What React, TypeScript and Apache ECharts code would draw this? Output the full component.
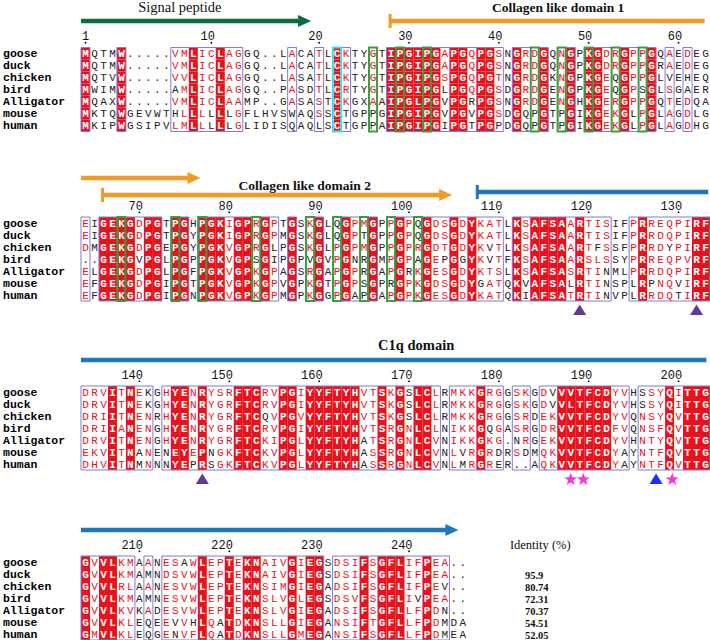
import React, { useEffect, useRef } from "react";
import * as echarts from "echarts";

const species = ["goose", "duck", "chicken", "bird", "Alligator", "mouse", "human"];

const block1 = [
  "MQTMW.....VMLICLAGGQ..LACATLCKTYGTIPGIPGAPGQPGSNGRDGQNGPKGDRGPPGQAEDEG",
  "MQTMW.....VMLICLAGGQ..LACATLCKTYGTIPGIPGAPGQPGSNGRDGQNGPKGDRGPPGRAEDEG",
  "MQTVW.....VVLICLAGGQ..LASATLCKTYGTIPGIPGSPGQPGTNGRDGKNGPKGEQGPPGLVEHEQ",
  "MWIMW.....AMLICLAGGQ..PASDTLCRTYGTIPGIPGLPGQPGSDGRDGENGPKGEQGPSGLSGAER",
  "MQAXW.....VMLICLAAMP..GASASTCKGXAAIPGLPGVPGRPGSNGRDGENGHKGERGPPGQTEDQA",
  "MKTQWGEVWTHLLLLLLGFLHVSWAQSSCTGPPGIPGIPGVPGVPGSDGQPGTPGIKGEKGLPGLAGDLG",
  "MKIPWGSIPVLMLLLLLGLIDISQAQLSCTGPPAIPGIPGIPGTPGPDGQPGTPGIKGEKGLPGLAGDHG",
];
const block2 = [
  "EIGEKGDPGTPGHPGKIGPRGPTGSKGLQGPMGPPGPQGDSGDYKATLKSAFSAARTISIFPRREQPIRF",
  "EIGEKGDPGTPGYPGKIGPRGPMGSKGLQGPTGPPGPQGDSGDYKATLKSAFSAARTISIFPRRDQPIRF",
  "DMGEKGDPGEPGYPGKVGPRGLPGSKGLPGPMGPPGPRGDTGDYKVTLKSAFSAARTFSSFPRRDYPIRF",
  "..GEKGVPGLPGPPGKVGPSGIPGPVGVPGNRGMPGPAGEPGGYKVTFKSAFSAARSLSSYPRREQPVRF",
  "ELGEKGDPGLPGFPGKVGPKGPAGSRGAPGPRGAPGRKGESGDYKTSLKSAFSASRTINMLPRRDQPIRF",
  "EFGEKGDPGIPGTPGKVGPKGPVGPKGTPGPSGPRGPKGDSGDYGATQKVAFSALRTINSPLRPNQVIRF",
  "EFGEKGDPGIPGNPGKVGPKGPMGPKGGPGAPGAPGPKGESGDYKATQKIAFSATRTINVPLRRDQTIRF",
];
const block3 = [
  "DRVITNEKGHYENRYSRFTCRVPGIYYFTYHVTSKGSLCLRMKKGRGGSKGDVVVTFCDYVHSSYQITTG",
  "DRVITNEKGHYENRYGRFTCRVPGIYYFTYHVTSKGSLCLRMKKGRGGSKGDVVLTFCDYVHSSYQITTG",
  "DRIITNENRHYENRYGRFTCQVPGVYYFTYHVTSKGSLCLRMKKGRGGSRDEKVVTFCDYVQNSYQVTTG",
  "DRIIANENGHYENRYGRFTCRVPGIYYFTYHVTSRGNLCLNIKKGQGASRGDRVVTFCDFVQNSFQVTTG",
  "DRVITNENGHYENRYGRFTCKIPGLYYFTYHATSRGNLCVNIKKGKG.NRGEKVVTFCDYVHNTYQVTTG",
  "EKVITNANENEYEPNGKFTCKVPGLYYFTYHASSRGNLCVNLVRGRDRSDMQKVVTFCDYAYNTFQVTTG",
  "DHVITNMNNNYEPRSGKFTCKVPGLYYFTYHASSRGNLCVNLMRGRER..AQKVVTFCDYAYNTFQVTTG",
];
const block4 = [
  "GVVLKMAANESAWLEPTEKNAIVGIEGSDSIFSGFLIFPEA..",
  "GVVLKMAMNDSVWLEPTEKNAIVGIEGSDSIFSGFLIFPEA..",
  "GVVLRLAANESVWLEPTEKNSIMGIEGADSIFSGFLIFPEV..",
  "GVVLKMAMNESVWLEPTEKNSLVGLEGSDSVFSGFLIVPEA..",
  "GVVLKVKADESVWLEPTEKNSLVGIEGADSIFSGFLLFPDN..",
  "GVVLKLEQEEVVHLQATDKNSLLGIEGANSIFTGFLLFPDMDA",
  "GMVLKLEQGENVFLQATDKNSLLGMEGANSIFSGFLLFPDMEA",
];

// column classes: R = strictly conserved (red box), r = similar (red letters), - = not conserved
const classes1 = "R---R-----rrRrrRrr-----r--r-Rr--r-RRRRRRrRRrRRr-RrrR-rR-RRrrRrrR-r-r--";
const classes2 = "r-RRRRrRR-RR-RRRrRRrRr-R-rR-rRrrR-rRrrRrrRrRrrr-RrRRRRrRrrr--rRrrrrrRR";
const classes3 = "rrrRrRrr-rRRrRrrrRRRrrRRrRRRRRRrrRrRrRRr-rrrRrr-rr-rrRRRRRRrr-rrrRrRRR";
const classes4 = "RrRRrr-r-rrrrRrrRrRRrrrRrRR-rrrRrRRRrrRrr--";

const greenCols1 = [33, 36, 39, 51, 54, 57, 60, 63];
const greenCols2 = [5, 11, 14, 20, 26, 29, 32, 35, 38];
const cyanCols1 = [29];

const firstResidue = [1, 64, 134, 204];
const identityValues = ["95.9", "80.74", "72.31", "70.37", "54.51", "52.05"];

const triangleCols2 = [56, 69];
const triangleCols3 = [14];
const starCols3 = [55, 56.4, 66.3];
const blueTriangleCols3 = [64.5];

const domainNames = ["Signal peptide", "Collagen like domain 1", "Collagen like domain 2", "C1q domain"];
// [domain, block, from column, to column]
const domainSegments = [
  [0, 0, 0.5, 26.1],
  [1, 0, 34.9, 69.9],
  [1, 1, 0.5, 13.8],
  [2, 1, 2.9, 41.8],
  [3, 1, 44.6, 70.3],
  [3, 2, 0.5, 70.1],
  [3, 3, 0.5, 42.5],
];
// [domain, block, column of label centre]
const domainLabels = [
  [0, 0, 11.5],
  [1, 0, 53.6],
  [2, 1, 25.4],
  [3, 2, 37.8],
];

const blocks = [block1, block2, block3, block4];
const classes = [classes1, classes2, classes3, classes4];
const greens = [greenCols1, greenCols2, [], []];
const cyans = [cyanCols1, [], [], []];

// layout
const ROW0_Y = [53.5, 223, 392, 562];
const ROW_H = 12;
const COL_W = 9;
const RED = "#e8121c";
const BLACK = "#222";
const FRAME = "#7c7cd9";
const GREEN = "#3d9c3d";
const CYAN = "#3fe3ea";
const DOMAIN_COLORS = ["#0b6b3b", "#f29a24", "#f29a24", "#1d79bf"];
const MONO = "'Liberation Mono', 'Courier New', monospace";
const SERIF = "'Liberation Serif', 'Times New Roman', serif";
const RES_FONT = 11;

const groups = ["ILVM", "FYW", "KRH", "DENQ", "STAG", "P", "C"];
const grp = (ch: string) => groups.findIndex((g) => g.includes(ch));

function cellSeries(bi: number) {
  const seqs = blocks[bi];
  const cls = classes[bi];
  const data: number[][] = [];
  const meta: any[] = [];
  const n = seqs[0].length;
  for (let c = 0; c < n; c++) {
    const col = seqs.map((s) => s[c]);
    const counts: Record<string, number> = {};
    col.forEach((ch) => {
      if (ch !== ".") counts[ch] = (counts[ch] || 0) + 1;
    });
    const mode = Object.keys(counts).sort((a, b) => counts[b] - counts[a])[0];
    col.forEach((ch, r) => {
      const k = cls[c];
      let fill = false;
      let color = BLACK;
      let bold = false;
      if (ch !== ".") {
        if (k === "R") {
          fill = true;
          color = "#fff";
          bold = true;
        } else if (k === "r" && grp(ch) >= 0 && grp(ch) === grp(mode)) {
          color = RED;
        }
      }
      data.push([c + 1, r]);
      meta.push({ ch, fill, color, bold });
    });
  }
  return {
    type: "custom",
    xAxisIndex: bi,
    yAxisIndex: bi,
    z: 2,
    silent: true,
    data,
    renderItem: (params: any, api: any) => {
      const m = meta[params.dataIndex];
      const p = api.coord([api.value(0), api.value(1)]);
      const children: any[] = [];
      if (m.fill) {
        children.push({
          type: "rect",
          shape: { x: p[0] - COL_W / 2, y: p[1] - ROW_H / 2, width: COL_W, height: ROW_H },
          style: { fill: RED },
        });
      }
      children.push({
        type: "text",
        x: p[0],
        y: p[1] + 0.5,
        style: {
          text: m.ch,
          fill: m.color,
          fontFamily: MONO,
          fontSize: RES_FONT,
          fontWeight: m.bold ? "bold" : "normal",
          align: "center",
          verticalAlign: "middle",
        },
      });
      return { type: "group", children };
    },
  };
}

function frameSeries(bi: number) {
  const cls = classes[bi];
  const runs: number[][] = [];
  let start = -1;
  for (let c = 0; c <= cls.length; c++) {
    const on = c < cls.length && cls[c] !== "-";
    if (on && start < 0) start = c + 1;
    if (!on && start >= 0) {
      runs.push([start, c]);
      start = -1;
    }
  }
  return {
    type: "custom",
    xAxisIndex: bi,
    yAxisIndex: bi,
    z: 3,
    silent: true,
    data: runs,
    renderItem: (params: any, api: any) => {
      const a = api.coord([api.value(0), 0]);
      const b = api.coord([api.value(1), 6]);
      return {
        type: "rect",
        shape: {
          x: a[0] - COL_W / 2,
          y: a[1] - ROW_H / 2,
          width: b[0] - a[0] + COL_W,
          height: b[1] - a[1] + ROW_H,
        },
        style: { fill: "none", stroke: FRAME, lineWidth: 1 },
      };
    },
  };
}

function boxSeries(bi: number, cols: number[], color: string, z: number) {
  return {
    type: "custom",
    xAxisIndex: bi,
    yAxisIndex: bi,
    z,
    silent: true,
    data: cols.map((c) => [c]),
    renderItem: (params: any, api: any) => {
      const a = api.coord([api.value(0), 0]);
      const b = api.coord([api.value(0), 6]);
      return {
        type: "rect",
        shape: { x: a[0] - COL_W / 2 + 0.5, y: a[1] - ROW_H / 2, width: COL_W - 1, height: b[1] - a[1] + ROW_H },
        style: { fill: "none", stroke: color, lineWidth: 2 },
      };
    },
  };
}

function numberSeries(bi: number) {
  const goose = blocks[bi][0];
  let res = firstResidue[bi] - 1;
  const data: number[][] = [];
  const labels: string[] = [];
  for (let c = 0; c < goose.length; c++) {
    if (goose[c] === ".") continue;
    res++;
    if (res === 1 || res % 10 === 0) {
      data.push([c + 1]);
      labels.push(String(res));
    }
  }
  return {
    type: "custom",
    xAxisIndex: bi,
    yAxisIndex: bi,
    z: 2,
    silent: true,
    data,
    renderItem: (params: any, api: any) => {
      const p = api.coord([api.value(0), 0]);
      return {
        type: "group",
        children: [
          {
            type: "text",
            x: p[0] + 3.6,
            y: p[1] - 16.5,
            style: {
              text: labels[params.dataIndex],
              fill: "#111",
              fontFamily: MONO,
              fontSize: 12,
              align: "right",
              verticalAlign: "middle",
            },
          },
          { type: "circle", shape: { cx: p[0], cy: p[1] - 10.8, r: 0.9 }, style: { fill: "#111" } },
        ],
      };
    },
  };
}

function laneOffset(domain: number, block: number) {
  if (block === 1) return domain === 1 ? -45 : domain === 3 ? -31 : -28;
  if (block === 0) return -32.5;
  return -32;
}

function domainSeries(bi: number) {
  const segs = domainSegments
    .map((s, i) => ({ s, i }))
    .filter(({ s }) => s[1] === bi);
  return {
    type: "custom",
    xAxisIndex: bi,
    yAxisIndex: bi,
    z: 2,
    silent: true,
    data: segs.map(({ s }) => [s[2], s[3]]),
    renderItem: (params: any, api: any) => {
      const { s, i } = segs[params.dataIndex];
      const d = s[0];
      const isFirst = domainSegments.findIndex((x) => x[0] === d) === i;
      const lastIdx = domainSegments.map((x) => x[0]).lastIndexOf(d);
      const isLast = lastIdx === i;
      const a = api.coord([api.value(0), 0]);
      const b = api.coord([api.value(1), 0]);
      const y = a[1] + laneOffset(d, bi);
      const color = DOMAIN_COLORS[d];
      const head = 13;
      const children: any[] = [
        {
          type: "rect",
          shape: { x: a[0], y: y - 2.2, width: b[0] - a[0] - (isLast ? head - 1 : 0), height: 4.4 },
          style: { fill: color },
        },
      ];
      if (isLast) {
        children.push({
          type: "polygon",
          shape: { points: [[b[0] - head, y - 6], [b[0], y], [b[0] - head, y + 6]] },
          style: { fill: color },
        });
      }
      if (isFirst && d !== 0) {
        children.push({
          type: "rect",
          shape: { x: a[0] - 1.5, y: y - 7, width: 3, height: 14 },
          style: { fill: color },
        });
      }
      return { type: "group", children };
    },
  };
}

function domainLabelSeries(bi: number) {
  const labs = domainLabels.filter((l) => l[1] === bi);
  return {
    type: "custom",
    xAxisIndex: bi,
    yAxisIndex: bi,
    z: 2,
    silent: true,
    data: labs.map((l) => [l[2]]),
    renderItem: (params: any, api: any) => {
      const l = labs[params.dataIndex];
      const d = l[0];
      const p = api.coord([api.value(0), 0]);
      const dy = bi === 1 ? -38 : bi === 2 ? -47 : -46.5;
      return {
        type: "text",
        x: p[0],
        y: p[1] + dy,
        style: {
          text: domainNames[d],
          fill: "#111",
          fontFamily: SERIF,
          fontSize: d === 0 ? 14.5 : d === 3 ? 14.5 : 13.5,
          fontWeight: d === 0 ? "normal" : "bold",
          align: "center",
          verticalAlign: "middle",
        },
      };
    },
  };
}

function markerSeries(bi: number, cols: number[], shape: string, color: string) {
  return {
    type: "custom",
    xAxisIndex: bi,
    yAxisIndex: bi,
    z: 2,
    silent: true,
    data: cols.map((c) => [c]),
    renderItem: (params: any, api: any) => {
      const p = api.coord([api.value(0), 6]);
      const x = p[0];
      const y = p[1] + 15;
      if (shape === "star") {
        const pts: number[][] = [];
        for (let k = 0; k < 10; k++) {
          const r = k % 2 === 0 ? 6.8 : 2.8;
          const ang = -Math.PI / 2 + (k * Math.PI) / 5;
          pts.push([x + r * Math.cos(ang), y + 0.5 + r * Math.sin(ang)]);
        }
        return { type: "polygon", shape: { points: pts }, style: { fill: color } };
      }
      return {
        type: "polygon",
        shape: { points: [[x, y - 5.5], [x - 6.5, y + 5], [x + 6.5, y + 5]] },
        style: { fill: color },
      };
    },
  };
}

function identitySeries() {
  return {
    type: "custom",
    xAxisIndex: 3,
    yAxisIndex: 3,
    z: 2,
    silent: true,
    data: identityValues.map((v, i) => [49.9, i + 1]),
    renderItem: (params: any, api: any) => {
      const p = api.coord([api.value(0), api.value(1)]);
      const children: any[] = [
        {
          type: "text",
          x: p[0],
          y: p[1] + 1,
          style: {
            text: identityValues[params.dataIndex],
            fill: "#111",
            fontFamily: SERIF,
            fontSize: 10.5,
            fontWeight: "bold",
            align: "left",
            verticalAlign: "middle",
          },
        },
      ];
      if (params.dataIndex === 0) {
        const q = api.coord([api.value(0), 0]);
        children.push({
          type: "text",
          x: q[0] - 15,
          y: q[1] - 17,
          style: {
            text: "Identity (%)",
            fill: "#111",
            fontFamily: SERIF,
            fontSize: 12.5,
            align: "left",
            verticalAlign: "middle",
          },
        });
      }
      return { type: "group", children };
    },
  };
}

export default function App() {
  const ref = useRef<HTMLDivElement>(null);
  useEffect(() => {
    if (!ref.current) return;
    const chart = echarts.init(ref.current, null, { renderer: "svg" });
    const grid = blocks.map((b, i) => ({
      left: 80,
      width: 630,
      top: ROW0_Y[i] - ROW_H / 2,
      height: ROW_H * 7,
    }));
    const xAxis = blocks.map((b, i) => ({
      type: "value",
      gridIndex: i,
      min: 0.5,
      max: 70.5,
      show: false,
    }));
    const yAxis = blocks.map((b, i) => ({
      type: "category",
      gridIndex: i,
      data: species,
      inverse: true,
      axisLine: { show: false },
      axisTick: { show: false },
      splitLine: { show: false },
      axisLabel: {
        interval: 0,
        align: "left",
        margin: 78,
        fontFamily: MONO,
        fontWeight: "bold",
        fontSize: 11.5,
        color: "#000",
      },
    }));
    const series: any[] = [];
    blocks.forEach((b, i) => {
      series.push(cellSeries(i));
      series.push(frameSeries(i));
      series.push(numberSeries(i));
      series.push(domainSeries(i));
      series.push(domainLabelSeries(i));
      if (greens[i].length) series.push(boxSeries(i, greens[i], GREEN, 4));
      if (cyans[i].length) series.push(boxSeries(i, cyans[i], CYAN, 5));
    });
    series.push(markerSeries(1, triangleCols2, "tri", "#5f3a97"));
    series.push(markerSeries(2, triangleCols3, "tri", "#5f3a97"));
    series.push(markerSeries(2, starCols3, "star", "#f43ad6"));
    series.push(markerSeries(2, blueTriangleCols3, "tri", "#1d2bff"));
    series.push(identitySeries());
    chart.setOption({
      animation: false,
      backgroundColor: "#fff",
      grid,
      xAxis,
      yAxis,
      series,
    });
    return () => chart.dispose();
  }, []);
  return (
    <div
      ref={ref}
      style={{ position: "absolute", left: 0, top: 0, width: 710, height: 640 }}
    />
  );
}
